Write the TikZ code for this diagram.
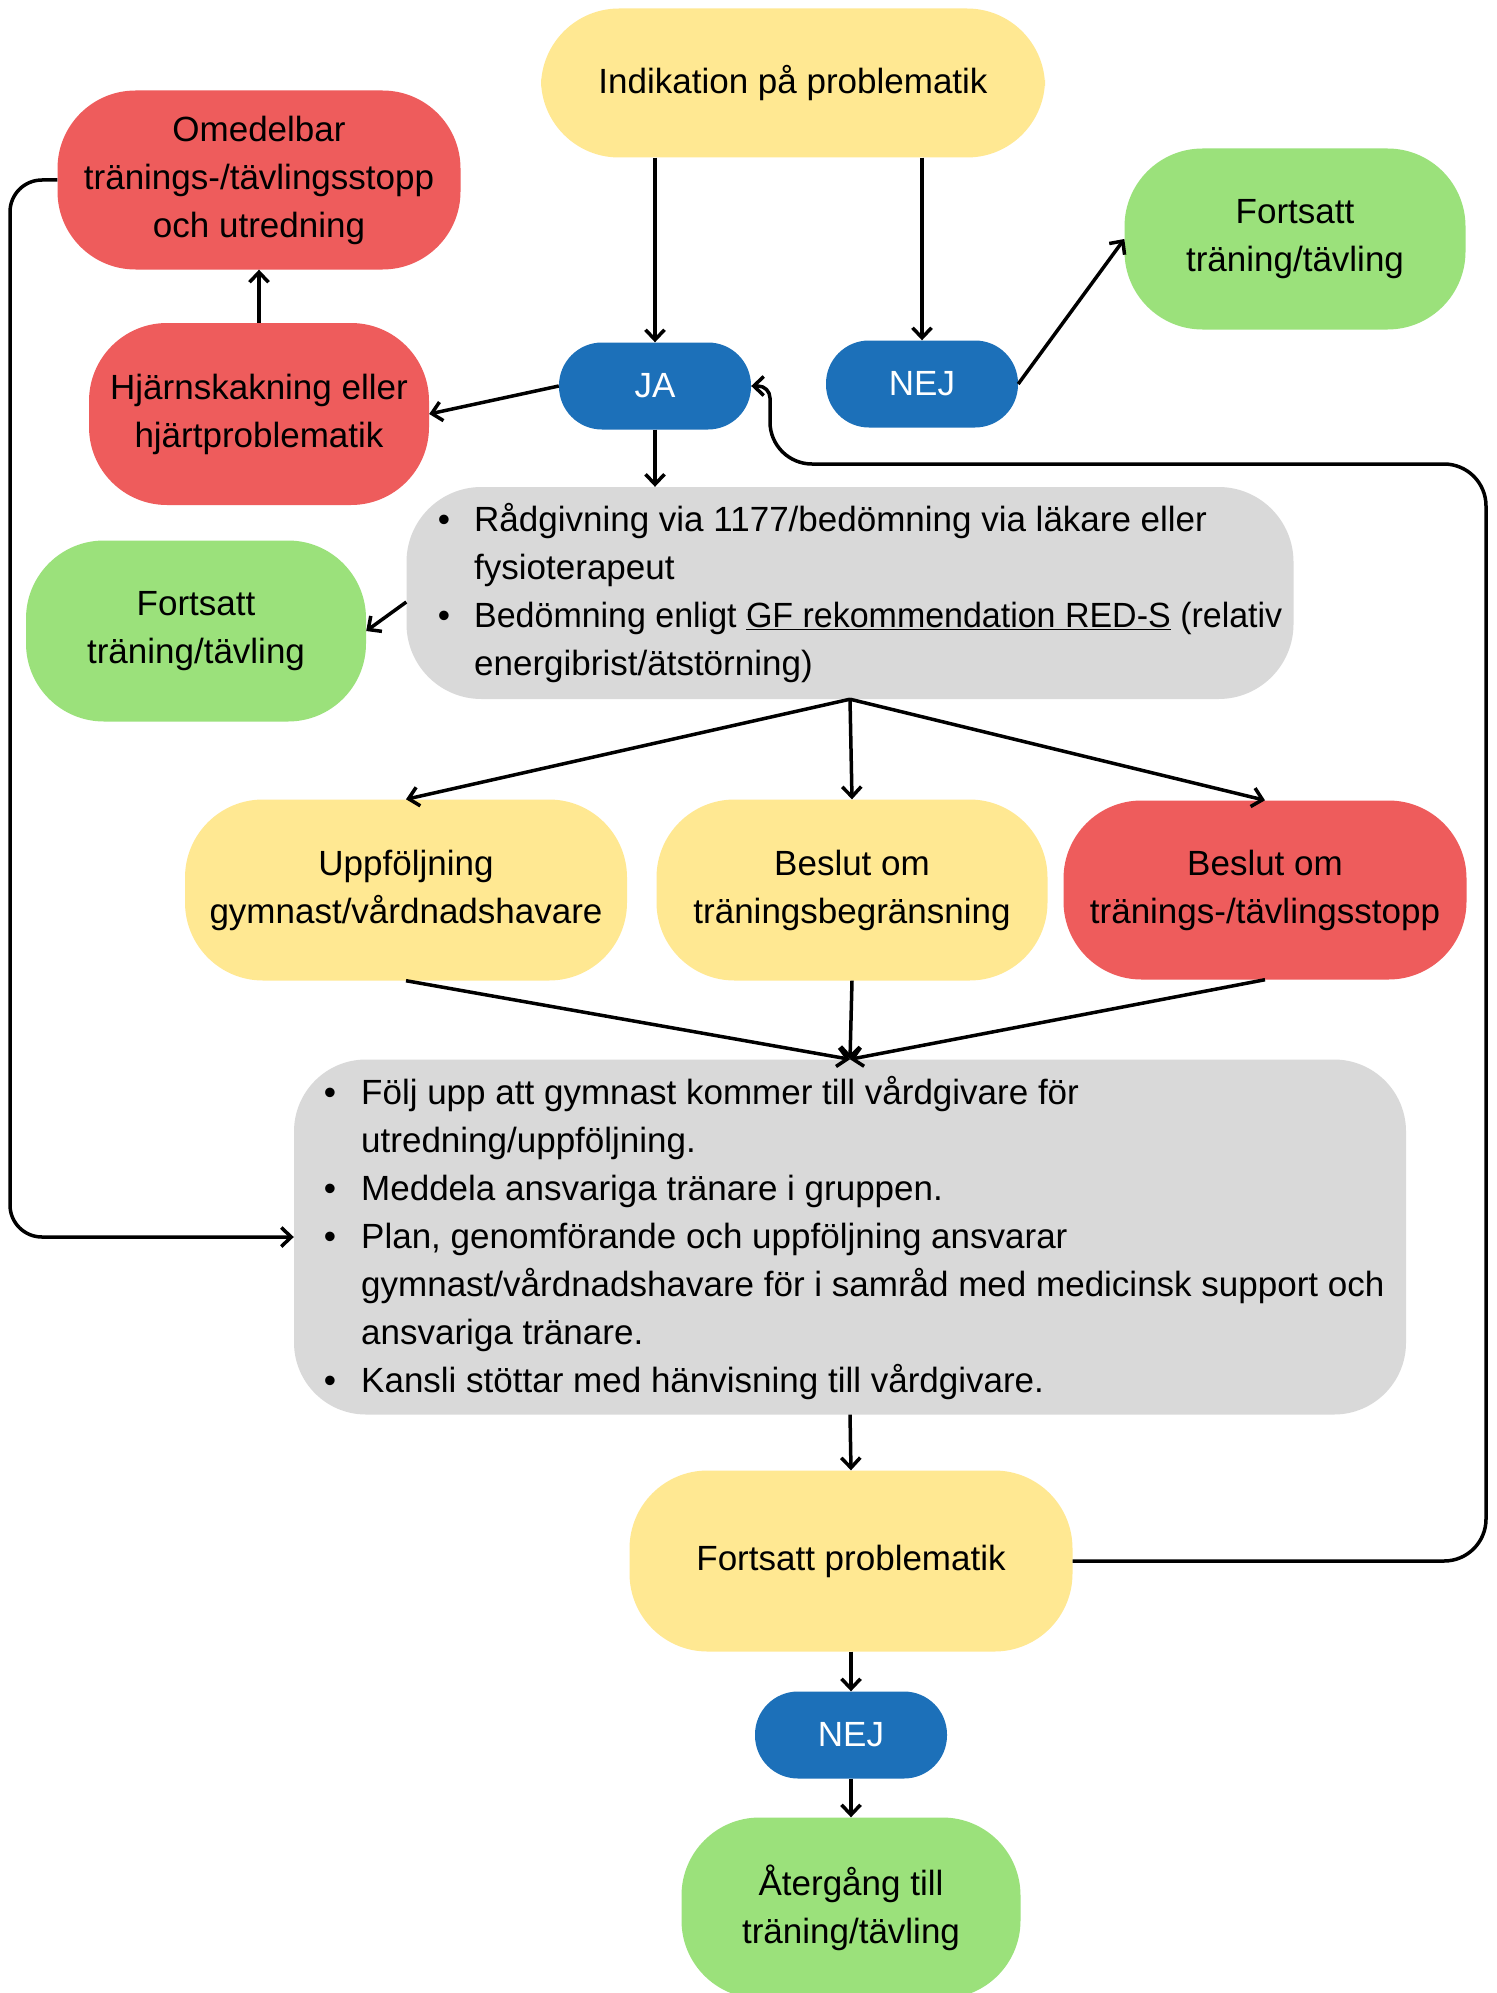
\documentclass[tikz,border=0pt]{standalone}
\usepackage{fontspec}
\usepackage{graphicx}
\setmainfont{Liberation Sans}
\usetikzlibrary{arrows.meta,calc}
\definecolor{cyellow}{HTML}{FFE892}
\definecolor{cred}{HTML}{EE5C5C}
\definecolor{cgreen}{HTML}{9BE17B}
\definecolor{cblue}{HTML}{1C70B9}
\definecolor{cgray}{HTML}{D9D9D9}
\begin{document}
\begin{tikzpicture}[x=1pt,y=-1pt,
  fnt/.style={font=\fontsize{35}{48}\selectfont},
  box/.style={fnt, rectangle, rounded corners=78pt, inner sep=0pt, align=center, text=black},
  pill/.style={fnt, rectangle, rounded corners=43pt, fill=cblue, text=white, inner sep=0pt,
    minimum width=192pt, minimum height=87pt},
  txt/.style={fnt, anchor=base west, inner sep=0pt},
  bul/.style={fnt, anchor=base, inner sep=0pt},
  arr/.style={line width=3.5pt, -{Straight Barb[length=10pt,width=19pt]}},
  ln/.style={line width=3.5pt}]
\clip (0,0) rectangle (1496,1993);
\fill[white] (0,0) rectangle (1496,1993);

% boxes
\node[box, fill=cyellow, minimum width=504pt, minimum height=149pt] (ind) at (793,83) {Indikation på problematik};
\node[box, fill=cred, minimum width=403pt, minimum height=179pt] (om) at (259,180) {Omedelbar\\tränings-/tävlingsstopp\\och utredning};
\node[box, fill=cgreen, minimum width=341pt, minimum height=181pt] (fort1) at (1295,239) {Fortsatt\\träning/tävling};
\node[pill] (ja) at (655,386) {JA};
\node[pill] (nej1) at (922,384) {NEJ};
\node[box, fill=cred, minimum width=340pt, minimum height=182pt] (hj) at (259,414) {Hjärnskakning eller\\hjärtproblematik};
\node[box, fill=cgray, rounded corners=75pt, minimum width=887pt, minimum height=212pt] (rad) at (850,593) {};
\node[box, fill=cgreen, minimum width=340pt, minimum height=181pt] (fl) at (196,631) {Fortsatt\\träning/tävling};
\node[box, fill=cyellow, minimum width=442pt, minimum height=181pt] (up1) at (406,890) {Uppföljning\\gymnast/vårdnadshavare};
\node[box, fill=cyellow, minimum width=391pt, minimum height=181pt] (bes) at (852,890) {Beslut om\\träningsbegränsning};
\node[box, fill=cred, minimum width=403pt, minimum height=179pt] (stop) at (1265,890) {Beslut om\\tränings-/tävlingsstopp};
\node[box, fill=cgray, rounded corners=72pt, minimum width=1112pt, minimum height=355pt] (big) at (850,1237) {};
\node[box, fill=cyellow, minimum width=443pt, minimum height=181pt] (fp) at (851,1561) {Fortsatt problematik};
\node[pill] (nej2) at (851,1735) {NEJ};
\node[box, fill=cgreen, minimum width=339pt, minimum height=181pt] (ater) at (851,1908) {Återgång till\\träning/tävling};

% bullet texts, Rådgivning
\node[bul] (rb1) at (444,531) {•};
\node[bul] (rb2) at (444,627) {•};
\node[txt] (r1) at (474,531) {Rådgivning via 1177/bedömning via läkare eller};
\node[txt] (r2) at (474,579) {fysioterapeut};
\node[txt] (r3) at (474,627) {\resizebox{808pt}{\height}{Bedömning enligt \underline{GF rekommendation RED-S} (relativ}};
\node[txt] (r4) at (474,675) {energibrist/ätstörning)};

% bullet texts, big box
\node[bul] (bb1) at (330,1104) {•};
\node[bul] (bb2) at (330,1200) {•};
\node[bul] (bb3) at (330,1248) {•};
\node[bul] (bb4) at (330,1392) {•};
\node[txt] (b1) at (361,1104) {Följ upp att gymnast kommer till vårdgivare för};
\node[txt] (b2) at (361,1152) {utredning/uppföljning.};
\node[txt] (b3) at (361,1200) {Meddela ansvariga tränare i gruppen.};
\node[txt] (b4) at (361,1248) {Plan, genomförande och uppföljning ansvarar};
\node[txt] (b5) at (361,1296) {gymnast/vårdnadshavare för i samråd med medicinsk support och};
\node[txt] (b6) at (361,1344) {ansvariga tränare.};
\node[txt] (b7) at (361,1392) {Kansli stöttar med hänvisning till vårdgivare.};

% helper coordinates
\coordinate (split) at (rad.south);
\coordinate (merge) at (big.north);
\coordinate (lA) at (10,180);
\coordinate (lB) at (10,1237);
\coordinate (rA) at (1486,1561);
\coordinate (rB) at (1486,464);
\coordinate (rC) at (770,464);
\coordinate (rD) at (770,386);

% connectors
\draw[arr] (ja.north |- ind.south) -- (ja.north);
\draw[arr] (nej1.north |- ind.south) -- (nej1.north);
\draw[arr] (nej1.east) -- (fort1.west);
\draw[arr] (ja.west) -- (hj.east);
\draw[arr] (hj.north) -- (om.south);
\draw[arr] (ja.south) -- (ja.south |- rad.north);
\draw[arr] ($(rad.west)+(0,9)$) -- (fl.east);
\draw[arr] (split) -- (up1.north);
\draw[arr] (split) -- (bes.north);
\draw[arr] (split) -- (stop.north);
\draw[arr] (up1.south) -- (merge);
\draw[arr] (bes.south) -- (merge);
\draw[arr] (stop.south) -- (merge);
\draw[arr] (big.south) -- (fp.north);
\draw[arr] (fp.south) -- (nej2.north);
\draw[arr] (nej2.south) -- (ater.north);
\draw[arr, rounded corners=32pt] (om.west) -- (lA) -- (lB) -- (big.west);
\draw[arr, rounded corners=42pt] (fp.east) -- (rA) -- (rB) -- (rC) [rounded corners=12pt] -- (rD) -- (ja.east);
\end{tikzpicture}
\end{document}
